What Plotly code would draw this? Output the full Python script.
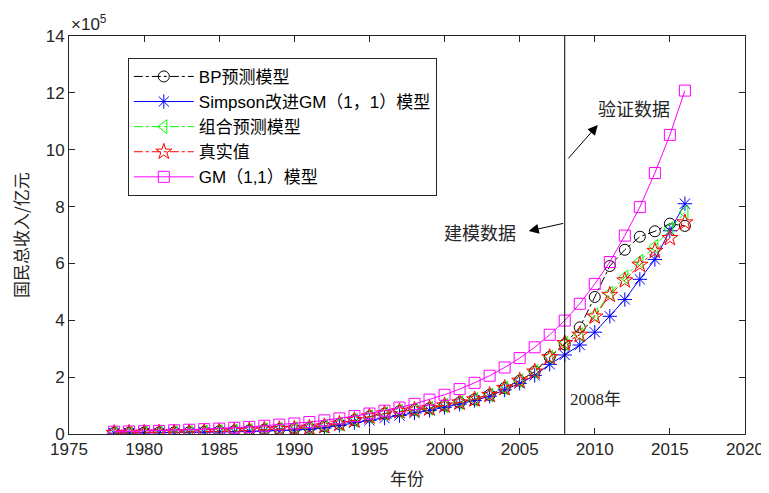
import plotly.graph_objects as go

years = list(range(1978, 2017))

real = [0.0368, 0.0410, 0.0459, 0.0494, 0.0537, 0.0602, 0.0728, 0.0910, 0.1038, 0.1218,
        0.1518, 0.1718, 0.1887, 0.2201, 0.2720, 0.3567, 0.4864, 0.6134, 0.7181, 0.7972,
        0.8520, 0.9056, 1.0028, 1.1086, 1.2172, 1.3742, 1.6184, 1.8732, 2.1944, 2.7023,
        3.1952, 3.4908, 4.1303, 4.8930, 5.4037, 5.9524, 6.4397, 6.8905, 7.4413]

bp = [0.0370, 0.0412, 0.0455, 0.0498, 0.0540, 0.0600, 0.0730, 0.0905, 0.1040, 0.1220,
      0.1510, 0.1720, 0.1890, 0.2200, 0.2730, 0.3560, 0.4850, 0.6130, 0.7170, 0.7980,
      0.8530, 0.9050, 1.0030, 1.1080, 1.2180, 1.3740, 1.6170, 1.8740, 2.1950, 2.7100,
      3.1500, 3.7500, 4.8200, 5.9100, 6.4800, 6.9400, 7.1300, 7.4000, 7.3200]

simpson = [0.030, 0.034, 0.038, 0.043, 0.048, 0.054, 0.061, 0.070, 0.080, 0.092,
           0.106, 0.122, 0.140, 0.165, 0.215, 0.300, 0.400, 0.480, 0.560, 0.650,
           0.740, 0.830, 0.940, 1.050, 1.180, 1.330, 1.550, 1.780, 2.060, 2.450,
           2.780, 3.130, 3.580, 4.140, 4.730, 5.440, 6.140, 7.150, 8.100]

combo = [0.0365, 0.0408, 0.0460, 0.0492, 0.0535, 0.0605, 0.0725, 0.0912, 0.1035, 0.1215,
         0.1520, 0.1715, 0.1885, 0.2205, 0.2715, 0.3570, 0.4860, 0.6120, 0.7175, 0.7970,
         0.8515, 0.9060, 1.0025, 1.1090, 1.2170, 1.3745, 1.6180, 1.8730, 2.1940, 2.7000,
         3.1900, 3.5000, 4.1900, 4.9500, 5.5300, 6.0800, 6.6000, 7.2200, 7.8000]

gm = [0.08, 0.09, 0.10, 0.11, 0.13, 0.15, 0.17, 0.19, 0.22, 0.25,
      0.29, 0.33, 0.37, 0.42, 0.48, 0.55, 0.63, 0.72, 0.82, 0.93,
      1.06, 1.21, 1.38, 1.58, 1.80, 2.05, 2.34, 2.67, 3.05, 3.49,
      3.99, 4.58, 5.28, 6.05, 6.98, 7.98, 9.18, 10.52, 12.08]

names = ["BP预测模型", "Simpson改进GM（1，1）模型", "组合预测模型", "真实值", "GM（1,1）模型"]
xticks = [1975, 1980, 1985, 1990, 1995, 2000, 2005, 2010, 2015, 2020]
yticks = [0, 2, 4, 6, 8, 10, 12, 14]

series = [
    (names[0], bp, "black", "dashdot", "circle-open", 11),
    (names[1], simpson, "#0000ff", "solid", "asterisk-open", 12),
    (names[2], combo, "#00ff00", "dashdot", "triangle-left-open", 12),
    (names[3], real, "#ff0000", "dashdot", "star-open", 12),
    (names[4], gm, "#ff00ff", "solid", "square-open", 11),
]

fig = go.Figure()
for name, vals, col, dash, sym, sz in series:
    fig.add_trace(go.Scatter(
        x=years, y=vals, name=name, mode="lines+markers",
        line=dict(color=col, width=1, dash=dash),
        marker=dict(symbol=sym, size=sz, color=col, line=dict(color=col, width=1)),
    ))

axis_common = dict(
    showline=True, linecolor="#262626", linewidth=1, mirror="ticks",
    ticks="inside", ticklen=6, tickcolor="#262626", showgrid=False, zeroline=False,
    automargin=False,
    tickfont=dict(family="Liberation Sans, Arial", size=17, color="#262626"),
)

fig.update_layout(
    width=761, height=485,
    margin=dict(l=61, r=24, t=28, b=59),
    paper_bgcolor="white", plot_bgcolor="white",
    xaxis=dict(range=[1975, 2020], tickvals=xticks, **axis_common),
    yaxis=dict(range=[0, 14], tickvals=yticks, **axis_common),
    legend=dict(x=0.087, y=0.945, xanchor="left", yanchor="top",
                bgcolor="white", bordercolor="#262626", borderwidth=1,
                font=dict(family="Liberation Sans, Noto Sans CJK SC", size=17, color="black"),
                itemwidth=60, tracegroupgap=0),
    showlegend=True,
)

fig.add_shape(type="line", x0=2008, x1=2008, y0=0, y1=14, xref="x", yref="y",
              line=dict(color="black", width=1))

title_font = dict(family="Noto Sans CJK SC", size=17, color="#262626")
fig.add_annotation(x=0.5, y=-0.11, xref="paper", yref="paper", xanchor="center", yanchor="middle",
                   text="年份", showarrow=False, font=title_font)
fig.add_annotation(x=-0.0725, y=0.5, xref="paper", yref="paper", xanchor="center", yanchor="middle",
                   text="国民总收入/亿元", showarrow=False, textangle=-90, font=title_font)

fig.add_annotation(x=0, y=1, xref="paper", yref="paper", xanchor="left", yanchor="bottom",
                   text="×10<sup>5</sup>", showarrow=False,
                   font=dict(family="Liberation Sans, Arial", size=17, color="#262626"))

fig.add_annotation(x=2010.2, y=10.87, ax=2008.15, ay=9.64, xref="x", yref="y", axref="x", ayref="y",
                   text="", showarrow=True, arrowhead=2, arrowsize=2, arrowwidth=1, arrowcolor="black")
fig.add_annotation(x=2010.07, y=11.47, xref="x", yref="y", text="验证数据", showarrow=False,
                   xanchor="left", font=dict(family="Noto Sans CJK SC", size=18, color="#262626"))

fig.add_annotation(x=2005.6, y=7.14, ax=2008.0, ay=7.42, xref="x", yref="y", axref="x", ayref="y",
                   text="", showarrow=True, arrowhead=2, arrowsize=2, arrowwidth=1, arrowcolor="black")
fig.add_annotation(x=2004.87, y=7.1, xref="x", yref="y", text="建模数据", showarrow=False,
                   xanchor="right", font=dict(family="Noto Sans CJK SC", size=18, color="#262626"))

fig.add_annotation(x=2008.2, y=1.2, xref="x", yref="y", text="2008年", showarrow=False,
                   xanchor="left", font=dict(family="Liberation Serif, Noto Sans CJK SC", size=17, color="#262626"))

fig.write_html("out.html")
